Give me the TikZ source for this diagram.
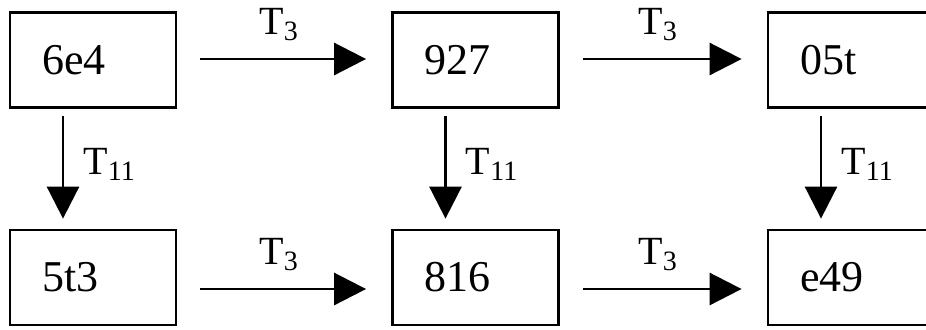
\documentclass[tikz,border=0pt]{standalone}
\usepackage{fontspec}
\setmainfont{Liberation Serif}
\usetikzlibrary{arrows.meta}
\tikzset{blk/.style={draw, line width=1.4pt, minimum width=83pt, minimum height=47.5pt,
  text width=51pt, inner xsep=16pt, align=left, font=\fontsize{22}{26}\selectfont}}
\tikzset{arr/.style={line width=1.4pt, -{Triangle[length=16pt, width=16pt]}}}
\tikzset{lbl/.style={inner sep=0pt, font=\fontsize{20}{24}\selectfont}}

\begin{document}
\begin{tikzpicture}[x=0.5pt, y=-0.5pt]
\path[use as bounding box, clip] (0,0) rectangle (926,329);

\node[blk] (a1) at (93, 60) {6e4};
\node[blk] (a2) at (475.5, 60) {927};
\node[blk] (a3) at (851, 60) {05t};
\node[blk] (b1) at (93, 277.5) {5t3};
\node[blk] (b2) at (475.5, 277.5) {816};
\node[blk] (b3) at (851, 277.5) {e49};

\draw[arr, shorten <=11.5pt, shorten >=12.5pt] ([yshift=0.5pt]a1.east) -- ([yshift=0.5pt]a2.west)
  node[lbl, midway, anchor=base, yshift=12.5pt, xshift=-2.5pt] (t1) {T\textsubscript{3}};
\draw[arr, shorten <=11.5pt, shorten >=12.5pt] ([yshift=0.5pt]a2.east) -- ([yshift=0.5pt]a3.west)
  node[lbl, midway, anchor=base, yshift=12.5pt, xshift=-2.5pt] (t2) {T\textsubscript{3}};
\draw[arr, shorten <=11.5pt, shorten >=12.5pt] ([yshift=-5.75pt]b1.east) -- ([yshift=-5.75pt]b2.west)
  node[lbl, midway, anchor=base, yshift=12.5pt, xshift=-2.5pt] (t3) {T\textsubscript{3}};
\draw[arr, shorten <=11.5pt, shorten >=12.5pt] ([yshift=-5.75pt]b2.east) -- ([yshift=-5.75pt]b3.west)
  node[lbl, midway, anchor=base, yshift=12.5pt, xshift=-2.5pt] (t4) {T\textsubscript{3}};

\draw[arr, shorten <=3.5pt, shorten >=5pt] ([xshift=-15pt]a1.south) -- ([xshift=-15pt]b1.north)
  node[lbl, midway, anchor=base west, xshift=9.5pt, yshift=-3pt] (s1) {T\textsubscript{11}};
\draw[arr, shorten <=3.5pt, shorten >=5pt] ([xshift=-15pt]a2.south) -- ([xshift=-15pt]b2.north)
  node[lbl, midway, anchor=base west, xshift=9.5pt, yshift=-3pt] (s2) {T\textsubscript{11}};
\draw[arr, shorten <=3.5pt, shorten >=5pt] ([xshift=-15pt]a3.south) -- ([xshift=-15pt]b3.north)
  node[lbl, midway, anchor=base west, xshift=9.5pt, yshift=-3pt] (s3) {T\textsubscript{11}};

\end{tikzpicture}
\end{document}
